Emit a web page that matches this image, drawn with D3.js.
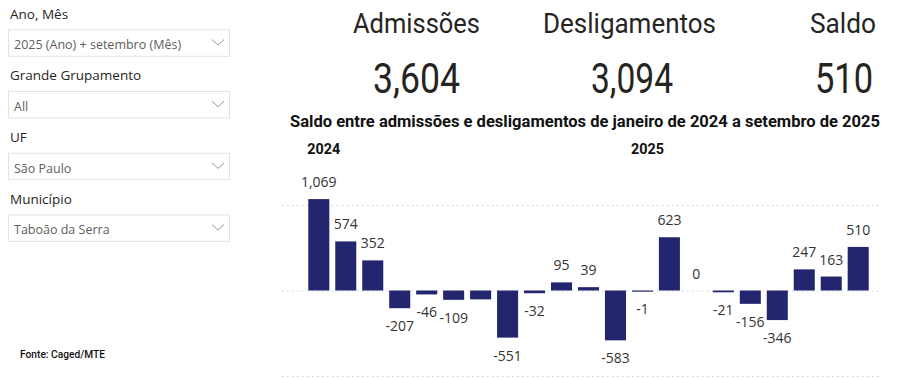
<!DOCTYPE html>
<html><head><meta charset="utf-8">
<script src="https://cdn.jsdelivr.net/npm/d3@7"></script>
<style>
body{margin:0;background:#fff;}
svg{display:block;}
</style></head>
<body>
<svg id="c" width="907" height="378"></svg>
<script>
const months = ["jan/2024","fev/2024","mar/2024","abr/2024","mai/2024","jun/2024","jul/2024","ago/2024","set/2024","out/2024","nov/2024","dez/2024",
  "jan/2025","fev/2025","mar/2025","abr/2025","mai/2025","jun/2025","jul/2025","ago/2025","set/2025"];
const saldo = [1069,574,352,-207,-46,-109,-104,-551,-32,95,39,-583,-1,623,0,-21,-156,-346,247,163,510];
const hiddenLabels = ["jul/2024"];
const years = ["2024","2025"];
const yearFirstMonth = ["jan/2024","jan/2025"];
const gridTicks = [-1000,0,1000];
const kpiLabels = ["Admissões","Desligamentos","Saldo"];
const kpiValues = [3604,3094,510];
const filterLabels = ["Ano, Mês","Grande Grupamento","UF","Município"];
const filterValues = ["2025 (Ano) + setembro (Mês)","All","São Paulo","Taboão da Serra"];
const chartTitle = "Saldo entre admissões e desligamentos de janeiro de 2024 a setembro de 2025";
const source = "Fonte: Caged/MTE";

const svg = d3.select("#c");
const fmt = d3.formatLocale({decimal:".",thousands:",",grouping:[3],currency:["",""],minus:"-"}).format(",");

// ---- filters panel
const fy0 = 18.5, fstep = 61.7;
filterLabels.forEach((lab,i)=>{
  const y = fy0 + i*fstep;
  svg.append("text").attr("x",10).attr("y",y).text(lab)
    .attr("font-family","'Open Sans', sans-serif").attr("font-size",13.5).attr("fill","#252423");
  svg.append("rect").attr("x",8.5).attr("y",y+11.3).attr("width",221).attr("height",26.5)
    .attr("fill","#fff").attr("stroke","#e3e3e3").attr("stroke-width",1);
  svg.append("text").attr("x",14).attr("y",y+30.8).text(filterValues[i])
    .attr("font-family","'Open Sans', sans-serif").attr("font-size",12.5).attr("fill","#605e5c");
  const cy = y + 21;
  svg.append("path").attr("d",`M212,${cy} L218,${cy+5.5} L224,${cy}`)
    .attr("fill","none").attr("stroke","#999").attr("stroke-width",1);
});
svg.append("text").attr("x",20).attr("y",358).text(source)
  .attr("font-family","Roboto, sans-serif").attr("font-weight",500).attr("font-size",10.5)
  .attr("fill","#111").attr("textLength",85).attr("lengthAdjust","spacingAndGlyphs");

// ---- KPIs
const kpiLabelX = [353,543,810], kpiLabelW = [127,173,66];
const kpiValX = [373,591,815], kpiValW = [87,82,58];
kpiLabels.forEach((lab,i)=>{
  svg.append("text").attr("x",kpiLabelX[i]).attr("y",33).text(lab)
    .attr("font-family","Roboto, sans-serif").attr("font-size",28).attr("fill","#252423")
    .attr("textLength",kpiLabelW[i]).attr("lengthAdjust","spacingAndGlyphs");
  svg.append("text").attr("x",kpiValX[i]).attr("y",93).text(fmt(kpiValues[i]))
    .attr("font-family","Roboto, sans-serif").attr("font-size",42).attr("fill","#252423")
    .attr("textLength",kpiValW[i]).attr("lengthAdjust","spacingAndGlyphs");
});

// ---- chart title
svg.append("text").attr("x",290).attr("y",127).text(chartTitle)
  .attr("font-family","Roboto, sans-serif").attr("font-weight",700).attr("font-size",16)
  .attr("fill","#111").attr("textLength",590).attr("lengthAdjust","spacingAndGlyphs");

// ---- scales
const x = d3.scaleBand().domain(months).range([294.8,882.2]).paddingInner(0.22).paddingOuter(0.5);
const y = d3.scaleLinear().domain([-1000,1000]).range([376,205]);

// gridlines via axis
const grid = svg.append("g").attr("transform","translate(282,0)")
  .call(d3.axisLeft(y).tickValues(gridTicks).tickSize(-600).tickFormat(""));
grid.select(".domain").remove();
grid.selectAll(".tick line").attr("stroke","#cfcfcf").attr("stroke-dasharray","1.5,3.5").attr("stroke-width",1);

// year labels
years.forEach((yr,i)=>{
  svg.append("text").attr("x",x(yearFirstMonth[i])-1).attr("y",154).text(yr)
    .attr("font-family","Roboto, sans-serif").attr("font-weight",700).attr("font-size",14.5)
    .attr("fill","#111").attr("textLength",33).attr("lengthAdjust","spacingAndGlyphs");
});

// bars
const barH = v => v===0 ? 0 : Math.max(1.2, Math.abs(y(v)-y(0)));
svg.append("g").selectAll("rect").data(months).join("rect")
  .attr("x",d=>x(d)).attr("width",x.bandwidth())
  .attr("y",(d,i)=>saldo[i]>=0 ? y(0)-barH(saldo[i]) : y(0))
  .attr("height",(d,i)=>barH(saldo[i]))
  .attr("fill","#23256e");

// labels
svg.append("g").selectAll("text").data(months).join("text")
  .filter(d=>!hiddenLabels.includes(d))
  .attr("x",d=>x(d)+x.bandwidth()/2)
  .attr("y",d=>{const v=saldo[months.indexOf(d)]; return v>=0 ? y(v)-12 : y(v)+23;})
  .attr("text-anchor","middle")
  .attr("font-family","'Open Sans', sans-serif").attr("font-size",14).attr("fill","#333")
  .text(d=>fmt(saldo[months.indexOf(d)]));
</script>
</body></html>
